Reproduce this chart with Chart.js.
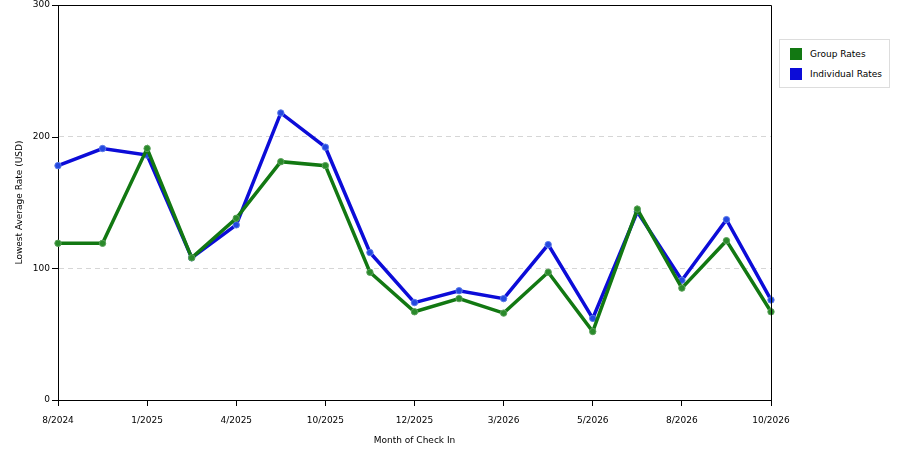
<!DOCTYPE html>
<html>
<head>
<meta charset="utf-8">
<script src="https://cdn.jsdelivr.net/npm/chart.js@4"></script>
<style>
html,body{margin:0;padding:0;background:#fff;}
#wrap{position:relative;width:900px;height:450px;}
#legend{position:absolute;left:779px;top:39px;width:111px;height:49px;border:1px solid #ddd;background:#fff;font-family:"DejaVu Sans",Verdana,sans-serif;font-size:9px;color:#000;box-sizing:border-box;}
#legend div{position:absolute;left:10px;height:12px;line-height:12px;}
#legend span{display:inline-block;width:12px;height:12px;vertical-align:top;margin-right:8px;}
</style>
</head>
<body>
<div id="wrap">
<canvas id="c" width="900" height="450"></canvas>
<div id="legend">
  <div style="top:8px"><span style="background:#127812"></span>Group Rates</div>
  <div style="top:28px"><span style="background:#0c0cd8"></span>Individual Rates</div>
</div>
</div>
<script>
const categories = ["8/2024","11/2024","1/2025","3/2025","4/2025","7/2025","10/2025","11/2025","12/2025","2/2026","3/2026","4/2026","5/2026","7/2026","8/2026","9/2026","10/2026"];
const groupRates = [119,119,191,108,138,181,178,97,67,77,66,97,52,145,85,121,67];
const individualRates = [178,191,186,108,133,218,192,112,74,83,77,118,62,143,91,137,76];
const yTicks = [0,100,200,300];
const FONT = {family:"'DejaVu Sans', Verdana, sans-serif", size:9};

const frame = {
  id:'frame',
  afterDraw(chart){
    const a = chart.chartArea, ctx = chart.ctx;
    ctx.save();
    ctx.strokeStyle = '#000';
    ctx.lineWidth = 1;
    ctx.beginPath();
    ctx.moveTo(Math.round(a.left)+0.5, Math.round(a.top)+0.5);
    ctx.lineTo(Math.round(a.right)+0.5, Math.round(a.top)+0.5);
    ctx.lineTo(Math.round(a.right)+0.5, Math.round(a.bottom)+0.5);
    ctx.stroke();
    const y = chart.scales.y;
    yTicks.forEach(v=>{ const py = Math.round(y.getPixelForValue(v))+0.5; ctx.beginPath(); ctx.moveTo(a.left-6,py); ctx.lineTo(a.left,py); ctx.stroke(); });
    ctx.restore();
  }
};

new Chart(document.getElementById('c'), {
  type:'line',
  data:{
    labels:categories,
    datasets:[
      {label:'Group Rates', data:groupRates, borderColor:'#127812', backgroundColor:'#2a8a2a', pointBorderColor:'#5aa05a', pointBorderWidth:1, pointRadius:3.2, borderWidth:3.5, tension:0},
      {label:'Individual Rates', data:individualRates, borderColor:'#0c0cd8', backgroundColor:'#2448e0', pointBorderColor:'#5a7ae8', pointBorderWidth:1, pointRadius:3.2, borderWidth:3.5, tension:0}
    ]
  },
  options:{
    responsive:false,
    animation:false,
    devicePixelRatio:1,
    layout:{padding:{left:10,right:129,top:5,bottom:0}},
    plugins:{legend:{display:false}, tooltip:{enabled:false}},
    scales:{
      x:{
        offset:false,
        afterFit(s){ s.height = 50; s.paddingLeft = 0; s.paddingRight = 0; },
        grid:{display:true, drawOnChartArea:false, drawTicks:true, tickLength:6, color:'#000',
              lineWidth:(c)=> (c.index % 2 === 0 ? 1 : 0)},
        border:{display:true,color:'#000',width:1},
        ticks:{autoSkip:false, maxRotation:0, color:'#000', font:FONT, padding:9,
               callback:function(v,i){ return i % 2 === 0 ? categories[i] : ''; }},
        title:{display:true, text:'Month of Check In', color:'#000', font:FONT, padding:{top:2}}
      },
      y:{
        min:0, max:300,
        afterFit(s){ s.width = 48; s.paddingTop = 0; s.paddingBottom = 0; },
        afterBuildTicks(s){ s.ticks = yTicks.map(v=>({value:v})); },
        grid:{color:(c)=> (c.tick && (c.tick.value===0||c.tick.value===300)) ? 'rgba(0,0,0,0)' : '#d6d6d6',
              drawTicks:false, tickLength:6},
        border:{display:true,color:'#000',width:1, dash:[5,4]},
        ticks:{color:'#000', font:FONT, padding:8},
        title:{display:true, text:'Lowest Average Rate (USD)', color:'#000', font:FONT, padding:{bottom:2}}
      }
    }
  },
  plugins:[frame]
});
</script>
</body>
</html>
